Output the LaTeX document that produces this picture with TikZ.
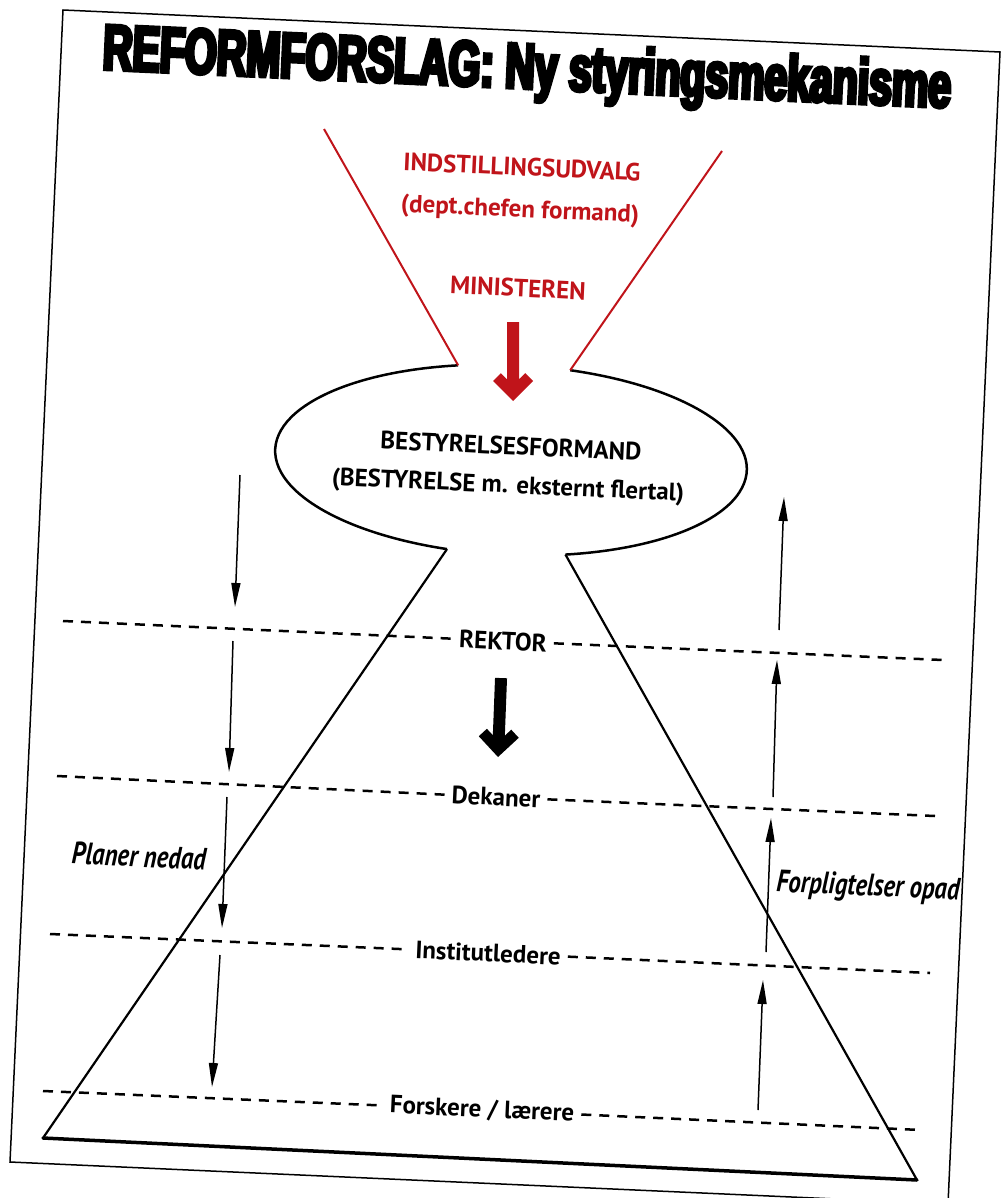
\documentclass[tikz,border=0pt]{standalone}
\usepackage{fontspec}
\setmainfont{PT Sans}
\newfontfamily\titlefont[FakeStretch=0.64,FakeBold=6]{Liberation Sans}
\newfontfamily\condit[FakeStretch=0.8]{PT Sans}
\usetikzlibrary{arrows.meta}
\definecolor{redc}{HTML}{C0141A}
\tikzset{
  tilt/.style={rotate=-2.6},
  lbl/.style={tilt, font=\bfseries\fontsize{25}{28}\selectfont, inner xsep=7pt, inner ysep=2pt},
  redlbl/.style={tilt, font=\bfseries\fontsize{25}{28}\selectfont, text=redc},
  itlbl/.style={tilt, font=\condit\itshape\bfseries\fontsize{31}{34}\selectfont},
  dashline/.style={line width=2.5pt, dash pattern=on 10pt off 8pt},
  thinarrow/.style={line width=1.5pt, -{Triangle[length=24pt,width=9pt]}},
  outline/.style={line width=2.2pt, line join=round},
}
\newcommand{\fatarrow}{(0,0) -- (-20,-20) -- (-12.2,-27.8) -- (-6,-21.6) -- (-6,-79) -- (6,-79) -- (6,-21.6) -- (12.2,-27.8) -- (20,-20) -- cycle}
\begin{document}
\begin{tikzpicture}[x=1pt,y=-1pt]
\useasboundingbox (0,0) rectangle (1002,1198);
% page
\coordinate (p1) at (63,10);
\coordinate (p2) at (1000,52);
\coordinate (p3) at (948,1204);
\coordinate (p4) at (10,1162);
\draw[line width=1.5pt] (p1) -- (p2) -- (p3) -- (p4) -- cycle;
% title
\node[tilt, font=\titlefont\bfseries\fontsize{64}{70}\selectfont] (title) at (527,72) {REFORMFORSLAG: Ny styringsmekanisme};
% red texts
\node[redlbl] (indst) at (522,167) {INDSTILLINGSUDVALG};
\node[redlbl] (dept) at (520,211) {(dept.chefen formand)};
\node[redlbl] (mini) at (518,288) {MINISTEREN};
% blob (ellipse with gaps)
\begin{scope}[shift={(511,460)}, rotate=-2.6]
  \coordinate (eTL) at (256:236 and 95);
  \coordinate (eTR) at (-76.5:236 and 95);
  \coordinate (eBL) at (104.7:236 and 95);
  \coordinate (eBR) at (75.6:236 and 95);
  \draw[outline, line width=2.5pt] (eTL) arc[start angle=256, end angle=104.7, x radius=236, y radius=95];
  \draw[outline, line width=2.5pt] (eTR) arc[start angle=-76.5, end angle=75.6, x radius=236, y radius=95];
\end{scope}
\coordinate (rl) at (324,129);
\coordinate (rr) at (722,151);
\draw[redc, line width=2pt] (rl) -- (eTL);
\draw[redc, line width=2pt] (rr) -- (eTR);
% trapezoid
\coordinate (tBL) at (43,1138);
\coordinate (tBR) at (917,1180);
\draw[outline] (eBL) -- (tBL);
\draw[outline] (eBR) -- (tBR);
\draw[line width=3.5pt, line cap=round] (tBL) -- (tBR);
% texts in blob
\node[lbl] (bf) at (511,446) {BESTYRELSESFORMAND};
\node[lbl] (bm) at (508,487) {(BESTYRELSE m. eksternt flertal)};
% big arrows
\fill[redc, shift={(513,401)}] \fatarrow;
\fill[black, shift={(498,757)}, rotate=-2.2] \fatarrow;
% dashed levels
\node[lbl] (rektor) at (503,641) {REKTOR};
\node[lbl] (dekaner) at (496,797) {Dekaner};
\node[lbl] (inst) at (488,953) {Institutledere};
\node[lbl] (forsk) at (482,1110) {Forskere / lærere};
\coordinate (d1a) at (63,621);  \coordinate (d1b) at (943,660);
\coordinate (d2a) at (57,776);  \coordinate (d2b) at (935,816);
\coordinate (d3a) at (50,934);  \coordinate (d3b) at (930,973);
\coordinate (d4a) at (43,1091); \coordinate (d4b) at (921,1130);
\draw[dashline] (d1a) -- (rektor.west);  \draw[dashline] (rektor.east) -- (d1b);
\draw[dashline] (d2a) -- (dekaner.west); \draw[dashline] (dekaner.east) -- (d2b);
\draw[dashline] (d3a) -- (inst.west);    \draw[dashline] (inst.east) -- (d3b);
\draw[dashline] (d4a) -- (forsk.west);   \draw[dashline] (forsk.east) -- (d4b);
% left arrows (down)
\coordinate (la1) at (240,475); \coordinate (la2) at (235,607);
\coordinate (lb1) at (233,641); \coordinate (lb2) at (229,772);
\coordinate (lc1) at (227,797); \coordinate (lc2) at (222,928);
\coordinate (ld1) at (220,955); \coordinate (ld2) at (212,1087);
\draw[thinarrow] (la1) -- (la2);
\draw[thinarrow] (lb1) -- (lb2);
\draw[thinarrow] (lc1) -- (lc2);
\draw[thinarrow] (ld1) -- (ld2);
% right arrows (up)
\coordinate (ra1) at (758,1110); \coordinate (ra2) at (763,980);
\coordinate (rb1) at (766,952);  \coordinate (rb2) at (771,818);
\coordinate (rc1) at (773,797);  \coordinate (rc2) at (777,660);
\coordinate (rd1) at (779,630);  \coordinate (rd2) at (784,497);
\draw[thinarrow] (ra1) -- (ra2);
\draw[thinarrow] (rb1) -- (rb2);
\draw[thinarrow] (rc1) -- (rc2);
\draw[thinarrow] (rd1) -- (rd2);
% italic labels
\node[itlbl] (planer) at (139,856) {Planer nedad};
\node[itlbl] (forpl) at (868,888) {Forpligtelser opad};
\end{tikzpicture}
\end{document}
